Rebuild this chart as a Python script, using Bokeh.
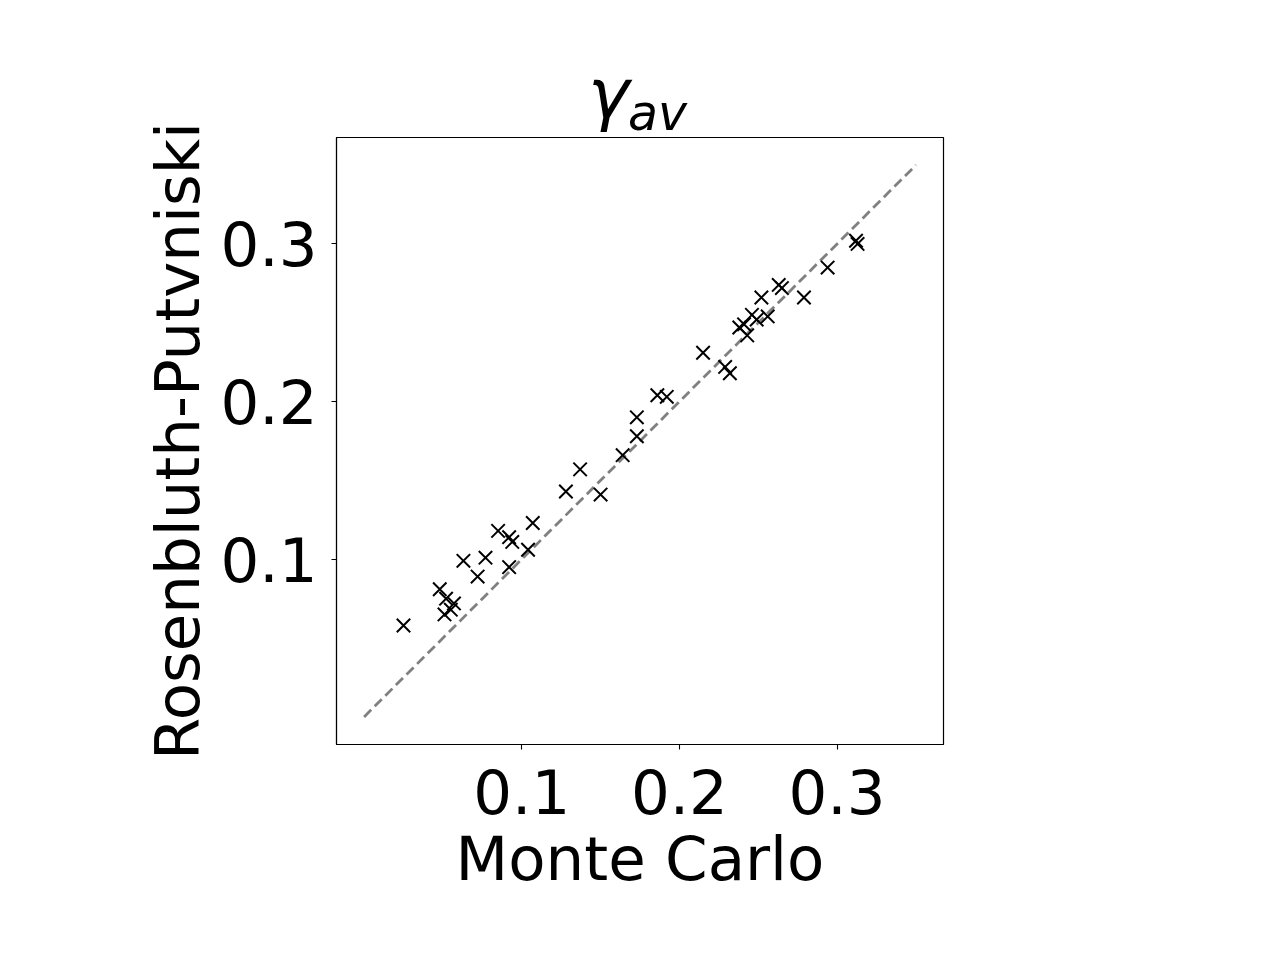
from bokeh.plotting import figure
from bokeh.models import Range1d, FixedTicker, Div
from bokeh.layouts import column
from bokeh.embed import file_html
from bokeh.resources import INLINE

# Monte Carlo values (x) vs Rosenbluth-Putvniski values (y)
monte_carlo = [0.025, 0.048, 0.052, 0.057, 0.051, 0.055, 0.063, 0.077, 0.072, 0.085,
               0.092, 0.094, 0.107, 0.104, 0.092, 0.128, 0.137, 0.150, 0.164, 0.173,
               0.173, 0.186, 0.192, 0.215, 0.229, 0.232, 0.238, 0.241, 0.243, 0.246,
               0.249, 0.256, 0.252, 0.263, 0.265, 0.279, 0.294, 0.312, 0.313]
rosenbluth = [0.058, 0.081, 0.075, 0.072, 0.065, 0.068, 0.099, 0.101, 0.089, 0.118,
              0.114, 0.111, 0.123, 0.106, 0.095, 0.143, 0.157, 0.141, 0.166, 0.190,
              0.178, 0.204, 0.203, 0.231, 0.222, 0.218, 0.247, 0.249, 0.242, 0.255,
              0.252, 0.254, 0.266, 0.274, 0.272, 0.266, 0.285, 0.302, 0.300]
diag = [0.0, 0.35]
ticks = [0.1, 0.2, 0.3]
tick_labels = ["0.1", "0.2", "0.3"]
x_label = "Monte Carlo"
y_label = "Rosenbluth-Putvniski"
title_main = "γ"
title_sub = "av"

FONT = "DejaVu Sans"
FS = "61px"

DIV_H = 140
title_html = (
    f'<div style="position:relative;width:1264px;height:{DIV_H}px;'
    f'font-family:\'{FONT}\';color:black;">'
    f'<span style="position:absolute;left:588px;top:59px;font-size:70px;line-height:70px;'
    f'font-style:italic;white-space:nowrap;">{title_main}</span>'
    f'<span style="position:absolute;left:628px;top:89px;font-size:49px;line-height:49px;'
    f'font-style:italic;white-space:nowrap;">{title_sub}</span>'
    '</div>'
)
div = Div(text=title_html, width=1264, height=DIV_H, margin=0)

# the figure overlaps the title strip (transparent border) so that its canvas
# starts at the top of the page
p = figure(width=1264, height=944, output_backend="svg", toolbar_location=None,
           x_range=Range1d(-0.0175, 0.3675), y_range=Range1d(-0.0175, 0.3675),
           min_border_left=336, min_border_right=321, min_border_top=137,
           min_border_bottom=200, frame_width=607, frame_height=607,
           margin=(-DIV_H, 0, 0, 0))
p.background_fill_color = "white"
p.border_fill_color = None
p.outline_line_color = "black"
p.outline_line_width = 1.2
p.grid.visible = False

for ax in (p.xaxis[0], p.yaxis[0]):
    ax.ticker = FixedTicker(ticks=ticks)
    ax.major_label_overrides = {t: l for t, l in zip(ticks, tick_labels)}
    ax.minor_tick_line_color = None
    ax.major_tick_in = 0
    ax.major_tick_out = 5
    ax.major_tick_line_width = 1.1
    ax.major_tick_line_color = "black"
    ax.axis_line_color = "black"
    ax.axis_line_width = 1.1
    ax.major_label_text_font = FONT
    ax.major_label_text_font_size = FS
    ax.major_label_text_color = "black"
    ax.axis_label_text_font = FONT
    ax.axis_label_text_font_size = FS
    ax.axis_label_text_font_style = "normal"
    ax.axis_label_text_color = "black"

p.xaxis.axis_label = x_label
p.yaxis.axis_label = y_label
p.xaxis.major_label_standoff = 19
p.yaxis.major_label_standoff = 14
p.xaxis.axis_label_standoff = 6
p.yaxis.axis_label_standoff = 4

p.line(diag, diag, line_color="#808080", line_width=2.8, line_dash="10 5")
p.scatter(monte_carlo, rosenbluth, marker="x", size=19, line_color="black", line_width=2)

layout = column(div, p, spacing=0, margin=0)
open("out.html", "w").write(file_html(layout, INLINE))
